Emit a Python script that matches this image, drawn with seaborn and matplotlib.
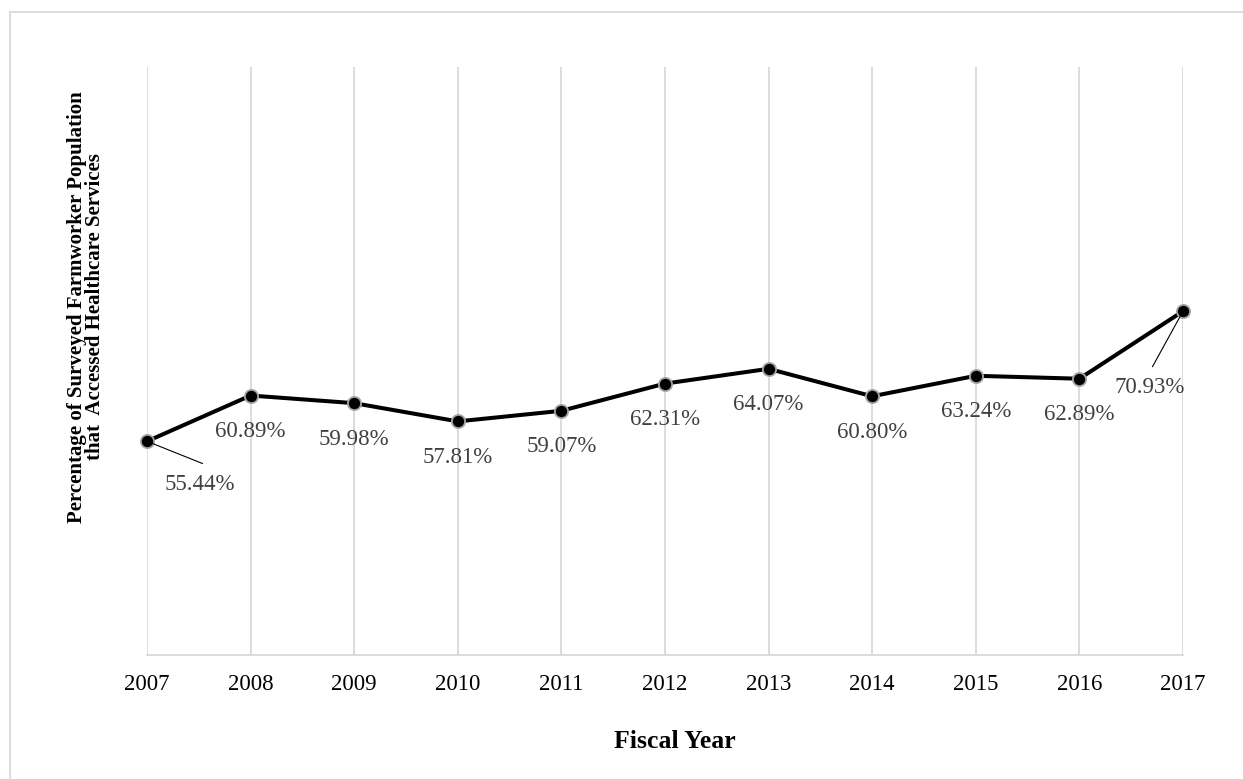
import matplotlib
matplotlib.use("Agg")
import matplotlib.pyplot as plt
import matplotlib.patches as patches
import pandas as pd
import seaborn as sns

# Data
years = [2007, 2008, 2009, 2010, 2011, 2012, 2013, 2014, 2015, 2016, 2017]
pct = [55.44, 60.89, 59.98, 57.81, 59.07, 62.31, 64.07, 60.80, 63.24, 62.89, 70.93]
labels = ["55.44%", "60.89%", "59.98%", "57.81%", "59.07%", "62.31%",
          "64.07%", "60.80%", "63.24%", "62.89%", "70.93%"]

df = pd.DataFrame({"Fiscal Year": years, "Pct": pct})

sns.set_theme(style="white")
plt.rcParams["font.family"] = ["Liberation Serif", "DejaVu Serif"]

fig = plt.figure(figsize=(12.43, 7.79), dpi=100)
ax = fig.add_axes([147 / 1243, 1 - 655 / 779, 1036 / 1243, 588 / 779])

sns.lineplot(data=df, x="Fiscal Year", y="Pct", ax=ax, color="black",
             linewidth=2.9, marker="o", markersize=9.5, markerfacecolor="black",
             markeredgecolor="#a6a6a6", markeredgewidth=1.3, clip_on=False,
             zorder=3)

ax.set_xlim(2007, 2017)
ax.set_ylim(30, 100)
ax.set_xticks(years)
ax.set_xticklabels([str(y) for y in years], fontsize=16.5, color="black")
ax.set_yticks([])
ax.tick_params(axis="x", length=0, pad=14)
ax.grid(axis="x", color="#d9d9d9", linewidth=1.3)
ax.set_axisbelow(True)
for s in ["top", "left", "right"]:
    ax.spines[s].set_visible(False)
ax.spines["bottom"].set_color("#d9d9d9")
ax.spines["bottom"].set_linewidth(1.3)
ax.set_xlabel("")
ax.set_ylabel("")

# data labels (offsets in points)
for i, (x, y, lab) in enumerate(zip(years, pct, labels)):
    if i == 0:
        ax.annotate("", xy=(x, y), xytext=(40, -16), textcoords="offset points",
                    arrowprops=dict(arrowstyle="-", color="black", lw=0.8,
                                    shrinkA=0, shrinkB=0))
        ax.annotate(lab, xy=(x, y), xytext=(38, -31), textcoords="offset points",
                    ha="center", va="center", fontsize=16.5, color="#404040")
    elif i == len(years) - 1:
        ax.annotate("", xy=(x, y), xytext=(-22, -40), textcoords="offset points",
                    arrowprops=dict(arrowstyle="-", color="black", lw=0.8,
                                    shrinkA=0, shrinkB=0))
        ax.annotate(lab, xy=(x, y), xytext=(-24, -55), textcoords="offset points",
                    ha="center", va="center", fontsize=16.5, color="#404040")
    else:
        ax.annotate(lab, xy=(x, y), xytext=(0, -26), textcoords="offset points",
                    ha="center", va="center", fontsize=16.5, color="#404040")

fig.text(675 / 1243, 1 - 742 / 779, "Fiscal Year", ha="center", va="center",
         fontsize=18.5, fontweight="bold", color="black")
fig.text(86 / 1243, 1 - 307 / 779,
         "Percentage of Surveyed Farmworker Population\nthat  Accessed Healthcare Services",
         ha="center", va="center", rotation=90, fontsize=15, fontweight="bold",
         color="black", linespacing=0.92)

# outer chart border
fig.patches.append(patches.Rectangle((10 / 1243, -0.1), 1.2, 1.1 - 12 / 779,
                                     transform=fig.transFigure, fill=False,
                                     edgecolor="#d9d9d9", linewidth=1.3))

fig.savefig("out.png", dpi=100, facecolor="white")
